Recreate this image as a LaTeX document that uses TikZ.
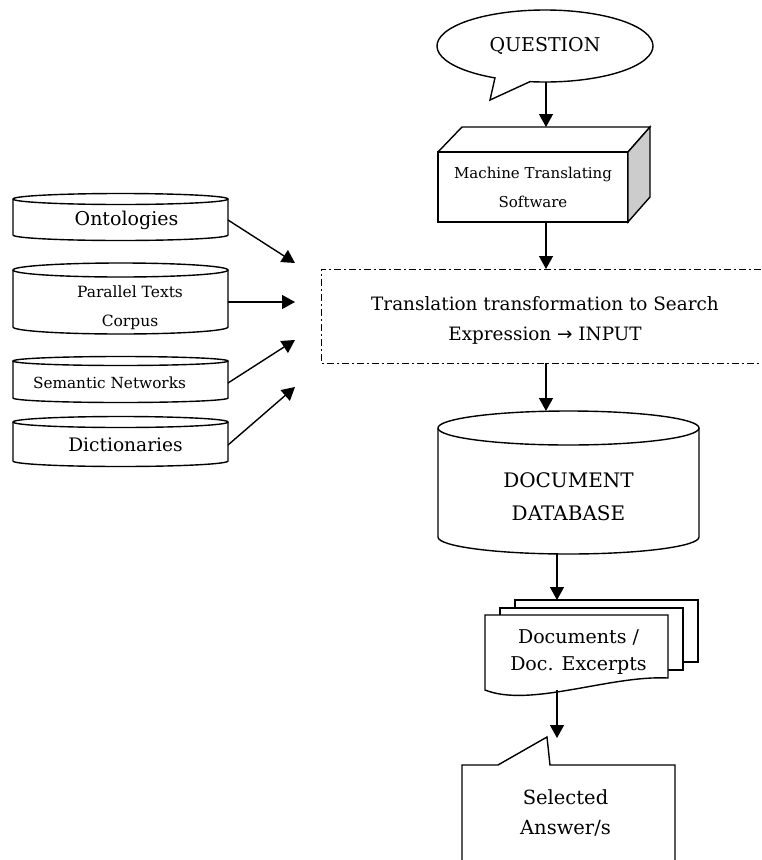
\documentclass[tikz,border=0pt]{standalone}
\usepackage{fontspec}
\setmainfont{DejaVu Serif}
\newfontfamily\symfont{DejaVu Sans}
\usetikzlibrary{arrows.meta,shapes.geometric}
\newcommand\setfz[2]{\fontsize{#1}{#2}\selectfont}
\newcommand\drawcyl[3]{%
  \draw[outl] (#1.north west) -- (#1.south west) arc[start angle=180,end angle=360,x radius=#2,y radius=#3] -- (#1.north east);
  \draw[outl] (#1.north) ellipse[x radius=#2,y radius=#3];}
\begin{document}
\begin{tikzpicture}[x=1pt,y=1pt,
  outl/.style={draw=black,line width=1.4pt},
  conn/.style={draw=black,line width=1.4pt,-{Triangle[length=13pt,width=14pt]}},
  shp/.style={inner sep=0pt,outer sep=0pt},
  txt/.style={align=center,inner sep=0pt}]
\clip (0,0) rectangle (761,-860);
\fill[white] (0,0) rectangle (761,-860);

% QUESTION
\node[shp,ellipse,minimum width=216,minimum height=72,
  label={[name=qt,txt,font=\setfz{19}{22}]center:QUESTION}] (q) at (545,-46) {};
\draw[outl] (490,-100) -- ([shift={(q.center)}]242.4:108 and 36)
  arc[start angle=242.4,end angle=-98,x radius=108,y radius=36] -- cycle;

% Machine translating software
\node[shp,minimum width=190,minimum height=70,
  label={[name=mtt,txt,font=\setfz{15}{29}]center:Machine Translating\\Software}] (mt) at (533,-187) {};
\draw[outl] (mt.south west) rectangle (mt.north east);
\draw[outl] (mt.north west) -- ++(24,25) -- ++(188,0) -- (mt.north east);
\draw[outl,fill=gray!40] (mt.north east) -- ++(22,25) -- ++(0,-70) -- (mt.south east) -- cycle;
\coordinate (mtop) at (546,-127);
\draw[conn] (q.south -| mtop) -- (mtop);

% Translation transformation
\node[shp,minimum width=440,minimum height=94,
  label={[name=ttt,txt,font=\setfz{18.4}{30},xshift=4,yshift=-4]center:Translation transformation to Search\\Expression {\symfont →} INPUT}] (tt) at (541,-316) {};
\draw[line width=1pt,dash pattern=on 7pt off 3pt on 2pt off 3pt]
  (tt.north east) -- (tt.north west) -- (tt.south west) -- (tt.south east);
\draw[conn] (mt.south -| mtop) -- (tt.north -| mtop);

% Document database
\node[shp,minimum width=261,minimum height=109,
  label={[name=dbt,txt,font=\setfz{20}{33},yshift=-14]center:DOCUMENT\\DATABASE}] (db) at (568.5,-482.5) {};
\drawcyl{db}{130.5}{17}
\coordinate (dbtop) at ([yshift=17]db.north);
\coordinate (dbbot) at ([yshift=-16]db.south);
\draw[conn] (tt.south -| mtop) -- (dbtop -| mtop);

% Documents stack
\coordinate (ax2) at (557,0);
\node[shp,minimum width=183,minimum height=62] (docs3) at (606.5,-631) {};
\node[shp,minimum width=183,minimum height=62] (docs2) at (591.5,-639) {};
\draw[outl,fill=white] (docs3.south west) rectangle (docs3.north east);
\draw[outl,fill=white] (docs2.south west) rectangle (docs2.north east);
\node[shp,minimum width=183,minimum height=75] (docs) at (576.5,-652.5) {};
\draw[outl,fill=white] (docs.north west) -- (docs.north east) -- ([yshift=12]docs.south east)
  .. controls +(-58,3) and +(45,-18) .. (docs.south west) -- cycle;
\node[txt,font=\setfz{19}{27}] (docst) at ([xshift=2]docs.center) {Documents /\\Doc. Excerpts};
\draw[conn] (dbbot -| ax2) -- (docs3.north -| ax2);

% Selected answers
\node[shp,minimum width=213,minimum height=95,
  label={[name=selt,txt,font=\setfz{19.5}{30},xshift=-3]center:Selected\\Answer/s}] (sel) at (568.5,-812.5) {};
\draw[outl] ([yshift=-10]sel.south west) -- (sel.north west) -- ++(36,0) -- ++(49,28) -- ++(3,-28)
  -- (sel.north east) -- ([yshift=-10]sel.south east);
\coordinate (selin) at (557,-738);
\draw[conn] (docs.south -| ax2) -- (selin);

% Left resources
\node[shp,minimum width=215,minimum height=36,
  label={[name=ontot,txt,font=\setfz{19}{22},xshift=6,yshift=-3]center:Ontologies}] (onto) at (120.5,-217) {};
\drawcyl{onto}{107.5}{5.5}
\node[shp,minimum width=215,minimum height=57,
  label={[name=part,txt,font=\setfz{15.5}{29},xshift=9.5,yshift=-9]center:Parallel Texts\\Corpus}] (par) at (120.5,-298.5) {};
\drawcyl{par}{107.5}{7}
\node[shp,minimum width=215,minimum height=37,
  label={[name=semt,txt,font=\setfz{15.3}{20},xshift=-11,yshift=-3.5]center:Semantic Networks}] (sem) at (120.5,-379.5) {};
\drawcyl{sem}{107.5}{4.5}
\node[shp,minimum width=215,minimum height=39,
  label={[name=dictt,txt,font=\setfz{18.6}{22},xshift=5,yshift=-3.5]center:Dictionaries}] (dict) at (120.5,-441.5) {};
\drawcyl{dict}{107.5}{5.5}

\coordinate (e1) at (295,-263);
\coordinate (e2) at (295,-302);
\coordinate (e3) at (295,-340);
\coordinate (e4) at (295,-387);
\draw[conn] ([yshift=-3]onto.east) -- (e1);
\draw[conn] ([yshift=-3.5]par.east) -- (e2);
\draw[conn] ([yshift=-3.5]sem.east) -- (e3);
\draw[conn] ([yshift=-3.5]dict.east) -- (e4);
\end{tikzpicture}
\end{document}
